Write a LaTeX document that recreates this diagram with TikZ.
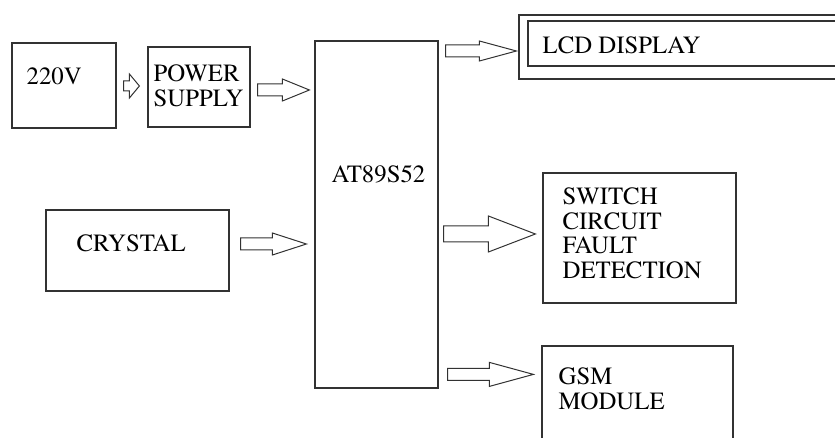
\documentclass[tikz,border=0pt]{standalone}
\usepackage[T1]{fontenc}
\usepackage{mathptmx}
\usetikzlibrary{positioning, calc}
\definecolor{boxline}{RGB}{50, 50, 50}

\begin{document}
\begin{tikzpicture}[
  x=1pt, y=-1pt,
  box/.style={rectangle, draw=boxline, line width=1.2pt, inner sep=0pt},
  lbl/.style={inner sep=0pt, align=left, anchor=north west,
              font=\fontfamily{ptm}\fontsize{24.8}{24.6}\selectfont},
  blk/.style args={#1/#2/#3}{draw=boxline, line width=1pt, to path={
    let \p1=(\tikztostart), \p2=(\tikztotarget) in
    (\x1,\y1+#1pt) -- (\x2-#3pt,\y1+#1pt) -- (\x2-#3pt,\y1+#2pt) -- (\x2,\y1)
    -- (\x2-#3pt,\y1-#2pt) -- (\x2-#3pt,\y1-#1pt) -- (\x1,\y1-#1pt) -- cycle}}
]
  \clip (0,0) rectangle (835,438);
  % blocks
  \node[box, minimum width=104pt, minimum height=85pt] (v220) at (64,85.5) {};
  \node[box, minimum width=102pt, minimum height=80pt] (psu) at (199,87) {};
  \node[box, minimum width=183pt, minimum height=81pt] (crystal) at (137.5,250.5) {};
  \node[box, minimum width=123pt, minimum height=347pt] (mcu) at (376.5,214.5) {};
  \node[box, minimum width=341pt, minimum height=64pt] (lcd) at (689.5,47) {};
  \node[box, minimum width=332pt, minimum height=45pt] (lcdin) at (694,43.5) {};
  \node[box, minimum width=193pt, minimum height=130pt] (sw) at (639.5,238) {};
  \node[box, minimum width=191pt, minimum height=124pt] (gsm) at (637.5,408) {};
  % labels
  \node[lbl] (v220txt) at ($(v220.north west)+(15,25)$) {220V};
  \node[lbl] (psutxt) at ($(psu.north west)+(6,18)$) {POWER\\SUPPLY};
  \node[lbl] (crystaltxt) at ($(crystal.north west)+(31,25)$) {CRYSTAL};
  \node[lbl, anchor=north] (mcutxt) at ($(mcu.north)+(2,125)$) {AT89S52};
  \node[lbl] (lcdtxt) at ($(lcdin.north west)+(15,16)$) {LCD DISPLAY};
  \node[lbl] (swtxt) at ($(sw.north west)+(20,15)$) {SWITCH\\CIRCUIT\\FAULT\\DETECTION};
  \node[lbl] (gsmtxt) at ($(gsm.north west)+(17,22)$) {GSM\\MODULE};
  % arrow ends
  \coordinate (a1s) at ($(v220.east)+(7,0.5)$);
  \coordinate (a1e) at ($(psu.west)+(-8,-1)$);
  \coordinate (a2s) at ($(psu.east)+(7,3)$);
  \coordinate (a2e) at ($(psu.east -| mcu.west)+(-5,3)$);
  \coordinate (a3s) at ($(crystal.east)+(11,-6.5)$);
  \coordinate (a3e) at ($(crystal.east -| mcu.west)+(-8,-6.5)$);
  \coordinate (a4s) at ($(lcd.west -| mcu.east)+(7,4)$);
  \coordinate (a4e) at ($(lcd.west)+(-2,4)$);
  \coordinate (a5s) at ($(sw.west -| mcu.east)+(5,-4)$);
  \coordinate (a5e) at ($(sw.west)+(-7,-4)$);
  \coordinate (a6s) at ($(gsm.north west -| mcu.east)+(9,29)$);
  \coordinate (a6e) at ($(gsm.north west)+(-8,29)$);
  % block arrows
  \draw[blk=5/12/10] (a1s) to (a1e);
  \draw[blk=6/11/27] (a2s) to (a2e);
  \draw[blk=6/11/34] (a3s) to (a3e);
  \draw[blk=6/10/37] (a4s) to (a4e);
  \draw[blk=8/18/47] (a5s) to (a5e);
  \draw[blk=6/12/44] (a6s) to (a6e);
\end{tikzpicture}
\end{document}
